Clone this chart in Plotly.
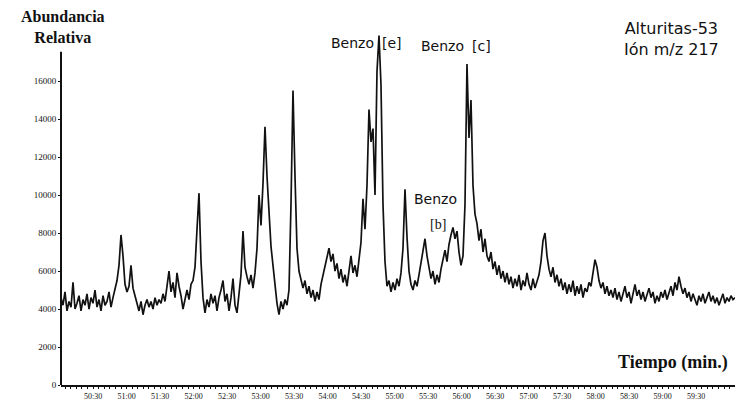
import numpy as np
import plotly.graph_objects as go

# Scan timing of the ion chromatogram (minutes)
scan_start = 50.02
scan_step = 0.02985

# Abundance of ion m/z 217, one value per scan
abundance = [
    # 50:00 - 50:48 baseline
    4600, 4200, 4900, 3900, 4400, 4100, 5400, 4000, 4300, 4700, 3900, 4500, 4200, 4800,
    4000, 4600, 4300, 5000, 4100, 4500, 3900, 4700, 4200, 4400, 4900, 4100, 4600,
    # first small peaks
    5000, 5500, 6300, 7900, 6800, 5300, 4900, 5200, 6300, 5100, 4700,
    4300, 3900, 4400, 3700, 4200, 4500, 4100, 4400, 4000, 4600, 4200, 4500, 4300, 4800, 4400,
    5300, 6000, 4900, 5400, 4600, 5900, 5200, 4700, 4000, 4600, 5000, 4500, 5300, 5500, 6200, 8200,
    10100, 6500, 4600, 3800, 4500, 4100, 4800, 4300, 4700, 3900, 4600, 5000, 5500, 4400, 4800,
    3900, 4600, 5600, 4200, 3800, 4700, 5800,
    8100, 6200, 5700, 5300, 5800, 5100, 5900, 7200, 10000, 8400, 10600, 13600, 11000, 9000,
    7300, 6300, 5100,
    4300, 3700, 4400, 4000, 4500, 4200, 5000, 9500, 15500, 11000, 7200, 6000,
    5600, 5100, 5500, 4800, 5200, 4600, 5000, 4400, 4900, 4500, 5300, 5800, 6300, 6800, 7200,
    6500, 6900, 6000, 6400, 5600, 6100, 5400, 5800, 5200, 6000, 6800, 5900, 6300, 5700, 6600,
    # Benzo[e] cluster
    7500, 9800, 8200, 10500, 14500, 12800, 13500, 10000, 16500, 18400, 15800, 9500, 6500, 5200, 5500,
    # Benzo[b]
    4900, 5400, 5000, 5600, 5200, 5900, 7200, 10300, 7800, 6000, 5300, 5000, 5500,
    5200, 5800, 6400, 7000, 7700, 6800, 6200, 5600, 6000, 5300, 5800, 5400, 6100, 6600, 7100,
    6500, 7400, 7900, 8300, 7700, 8100, 7000, 6300, 6800, 9500,
    # Benzo[c]
    16900, 13000, 15000, 10500, 9000, 8500, 7600, 8200, 7000, 7700, 6800, 6500,
    7000, 6100, 6500, 5800, 6300, 5600, 6000, 5400, 5900, 5300, 5700, 5100, 5600, 5200, 5800,
    5000, 5500, 5200, 5900, 5300, 5000, 5600, 5100, 5500, 5800,
    6500, 7600, 8000, 6800, 6100, 5700, 6200, 5400, 5800, 5200,
    5600, 5000, 5400, 4800, 5300, 4900, 5500, 4700, 5200, 4800, 5300, 4600, 5100, 4900, 5400,
    5200, 5900, 6600, 6200, 5500, 5100, 5400, 4800, 5200, 4700,
    # tail
    5000, 4600, 5100, 4500, 4900, 4400, 4800, 5200, 4600, 4900, 4300, 4800, 5300, 4700, 5000,
    4500, 4900, 4400, 4800, 5100, 4600, 4900, 4300, 4700, 4400, 4900, 4600, 5000, 4500, 4800,
    5200, 4700, 5400, 5000, 5700, 5200, 4800, 5100, 4600, 4900, 4400, 4800, 4500, 4200, 4700,
    4400, 4800, 4300, 4600, 4900, 4400, 4700, 4300, 4600, 4200, 4500, 4800, 4300, 4600, 4400,
    4700, 4500, 4600,
]

time_min = scan_start + scan_step * np.arange(len(abundance))

# Axis ticks
y_ticks = [0, 2000, 4000, 6000, 8000, 10000, 12000, 14000, 16000]
x_tick_vals = [50.5, 51.0, 51.5, 52.0, 52.5, 53.0, 53.5, 54.0, 54.5, 55.0,
               55.5, 56.0, 56.5, 57.0, 57.5, 58.0, 58.5, 59.0, 59.5]
x_tick_text = ["50:30", "51:00", "51:30", "52:00", "52:30", "53:00", "53:30", "54:00",
               "54:30", "55:00", "55:30", "56:00", "56:30", "57:00", "57:30", "58:00",
               "58:30", "59:00", "59:30"]

SERIF = "Liberation Serif"
SANS = "DejaVu Sans"
INK = "#111111"

fig = go.Figure()
fig.add_trace(go.Scatter(
    x=time_min, y=abundance, mode="lines",
    line=dict(color=INK, width=1.7),
    hoverinfo="skip", showlegend=False,
))

W, H = 735, 401
ml, mr, mt, mb = 61, 0, 20, 13
plot_h = H - mt - mb
units_per_px = 2000 / 38.3
x_units_per_px = 0.5 / 33.5

fig.update_layout(
    width=W, height=H,
    margin=dict(l=ml, r=mr, t=mt, b=mb),
    paper_bgcolor="white", plot_bgcolor="white",
    xaxis=dict(
        range=[scan_start, scan_start + (W - ml - mr) * x_units_per_px],
        showgrid=False, zeroline=False,
        showline=True, linecolor=INK, linewidth=2,
        ticks="outside", ticklen=2, tickcolor=INK, tickwidth=1,
        tickvals=x_tick_vals, ticktext=x_tick_text,
        tickfont=dict(family=SERIF, size=8, color=INK),
        minor=dict(dtick=1 / 12, ticks="outside", ticklen=2, tickcolor=INK, tickwidth=1),
    ),
    yaxis=dict(
        range=[0, plot_h * units_per_px],
        showgrid=False, zeroline=False, showline=False,
        ticks="outside", ticklen=2, tickcolor=INK,
        tickvals=y_ticks, ticktext=[str(v) for v in y_ticks],
        tickfont=dict(family=SERIF, size=9, color=INK),
    ),
)

# Vertical axis line (stops below the axis title)
fig.add_shape(type="line", xref="paper", yref="y", x0=0, x1=0,
              y0=0, y1=(388 - 52) * units_per_px,
              line=dict(color=INK, width=2))


def px_x(x):
    return (x - ml) / (W - ml - mr)


def px_y(y):
    return (H - mb - y) / plot_h


def label(text, x, y, family, size, xanchor="center"):
    fig.add_annotation(text=text, xref="paper", yref="paper",
                       x=px_x(x), y=px_y(y), xanchor=xanchor, yanchor="middle",
                       showarrow=False, borderpad=0,
                       font=dict(family=family, size=size, color=INK))


label("<b>Abundancia<br>Relativa</b>", 63, 27, SERIF, 16)
label("<b>Tiempo (min.)</b>", 673, 365, SERIF, 18)
label("Alturitas-53<br>Ión m/z 217", 671, 39, SANS, 16)
label("Benzo", 375, 43, SANS, 14, xanchor="right")
label("[e]", 381, 43, SANS, 14, xanchor="left")
label("Benzo", 465, 46, SANS, 14, xanchor="right")
label("[c]", 471, 46, SANS, 14, xanchor="left")
label("Benzo", 436, 200, SANS, 14)
label("[b]", 438, 226, SERIF, 14)

fig.write_html("out.html")
